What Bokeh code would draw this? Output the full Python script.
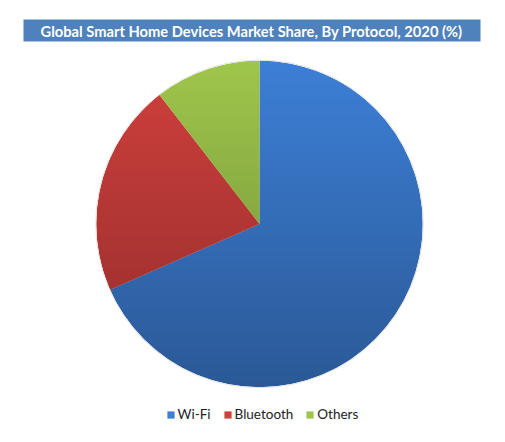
import numpy as np
from bokeh.plotting import figure
from bokeh.models import ColumnDataSource, Range1d, Legend, LegendItem, Label
from bokeh.embed import file_html
from bokeh.resources import INLINE
from bokeh.core.properties import value

# ---- data ----
categories = ["Wi-Fi", "Bluetooth", "Others"]
shares = [68.4, 21.1, 10.5]
colors = ["#3D7FD6", "#D0403D", "#9FC64C"]
title_text = "Global Smart Home Devices Market Share, By Protocol, 2020 (%)"

W, H = 489, 426
p = figure(width=W, height=H, x_range=Range1d(0, W), y_range=Range1d(0, H),
           output_backend="svg", toolbar_location=None, min_border=0)
p.axis.visible = False
p.grid.visible = False
p.outline_line_color = None

cx, cy, r = 259, 202.6, 163.3
fr = np.array(shares) / sum(shares)
cum = np.cumsum(fr)
starts = np.pi / 2 - (cum - fr) * 2 * np.pi
ends = np.pi / 2 - cum * 2 * np.pi

src = ColumnDataSource(dict(cat=categories, start=starts, end=ends, color=colors,
                            x=[cx] * 3, y=[cy] * 3))
wr = p.wedge(x="x", y="y", radius=r, start_angle="start", end_angle="end",
             direction="clock", fill_color="color", line_color=None, source=src)

# vertical shading overlay (lighter top, darker bottom)
n = 200
alpha = np.linspace(0.30, 0.0, n)  # row 0 = bottom
img = np.zeros((n, 1), dtype=np.uint32)
view = img.view(dtype=np.uint8).reshape((n, 1, 4))
view[:, 0, 3] = (alpha * 255).astype(np.uint8)
p.image_rgba(image=[img], x=cx - r, y=cy - r, dw=2 * r, dh=2 * r)

# mask outside the pie
p.annulus(x=cx, y=cy, inner_radius=r, outer_radius=r * 1.5,
          fill_color="white", line_color=None)
p.circle(x=cx, y=cy, radius=r + 0.5, fill_color=None, line_color="#d8d8d8",
         line_width=1, line_alpha=0.7)

# title bar
p.rect(x=251.5, y=396, width=457, height=22, fill_color="#4F81BD", line_color=None)
p.add_layout(Label(x=251, y=396, text=title_text, text_align="center",
                   text_baseline="middle", text_color="white",
                   text_font="Lato", text_font_style="bold",
                   text_font_size="14.7px"))

items = [LegendItem(label=c, renderers=[wr], index=i) for i, c in enumerate(categories)]
legend = Legend(items=items, location=(165.5, 4), orientation="horizontal",
                glyph_width=9, glyph_height=9, label_standoff=3, spacing=12,
                padding=0, margin=0, label_height=14,
                label_text_font="Lato", label_text_font_size="13.5px",
                label_text_color="#222222",
                background_fill_alpha=0, border_line_alpha=0)
p.add_layout(legend, "center")

open("out.html", "w").write(file_html(p, INLINE))
